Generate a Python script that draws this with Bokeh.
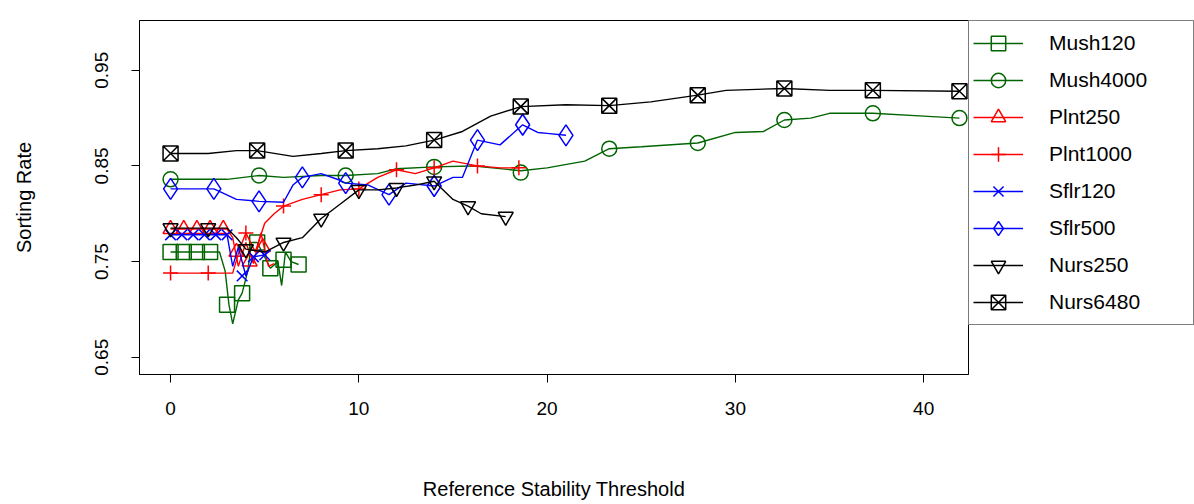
from bokeh.plotting import figure
from bokeh.models import Legend, LegendItem, Range1d, FixedTicker
from bokeh.embed import file_html
from bokeh.resources import INLINE

names = ["Mush120","Mush4000","Plnt250","Plnt1000","Sflr120","Sflr500","Nurs250","Nurs6480"]
colors = ["darkgreen","darkgreen","red","red","blue","blue","black","black"]
markers = ["square","circle","triangle","cross","x","diamond","inverted_triangle","square_x"]
msizes = [15, 15, 15, 15, 15, 21, 15, 15]

mush120_x = [0,2.6,2.9,3.1,3.3,3.6,3.8,4.1,4.3,4.6,5.0,5.3,5.7,5.9,6.1,6.4,6.8]
mush120_y = [.76,.76,.74,.705,.685,.71,.717,.74,.77,.77,.755,.743,.75,.725,.76,.75,.747]
mush120_mx = [0,.7,1.4,2.1,3.0,3.8,4.6,5.3,6.0,6.8]
mush120_my = [.76,.76,.76,.76,.705,.717,.77,.743,.752,.747]

mush4000_x = [0,3,4.7,6,8,9.3,11,12,14,16,18.6,20,22,23.3,25,28,30,31.5,32.6,34,35,37.3,40,41.9]
mush4000_y = [.836,.836,.840,.838,.840,.840,.842,.847,.849,.850,.845,.848,.855,.868,.870,.874,.885,.886,.898,.900,.905,.905,.902,.900]
mush4000_mx = [0,4.7,9.3,14,18.6,23.3,28,32.6,37.3,41.9]
mush4000_my = [.836,.840,.840,.849,.843,.868,.874,.898,.905,.900]

plnt250_x = [0,3,3.3,3.6,4,4.4,4.8,5.2,5.5]
plnt250_y = [.784,.784,.775,.745,.77,.748,.78,.745,.748]
plnt250_mx = [0,.7,1.4,2.1,2.8,3.5,4.2,4.9]
plnt250_my = [.784,.784,.784,.784,.784,.76,.75,.765]

plnt1000_x = [0,3.3,3.7,4,4.5,5,5.5,6,7,8,9,10,11,12,13,14,15,16.3,17.5,18.5]
plnt1000_y = [.738,.738,.765,.78,.76,.79,.80,.808,.815,.820,.825,.826,.838,.846,.842,.848,.855,.850,.848,.848]
plnt1000_mx = [0,2,4,6,8,10,12,14,16.3,18.5]
plnt1000_my = [.738,.738,.780,.808,.820,.826,.846,.848,.850,.848]

sflr120_x = [0,3,3.3,3.6,4,4.4,5,5.3]
sflr120_y = [.778,.778,.745,.765,.735,.755,.757,.762]
sflr120_mx = [0,.6,1.2,1.8,2.4,3.0,3.8,4.4,5.0]
sflr120_my = [.778,.778,.778,.778,.778,.778,.735,.755,.757]

sflr500_x = [0,2.3,3.5,4.7,6,6.5,7,8,9,9.3,10.5,11.6,12.5,14,15,15.5,16.3,17.5,18.7,19.5,20,21]
sflr500_y = [.826,.826,.815,.813,.812,.830,.838,.842,.835,.832,.830,.820,.832,.829,.838,.838,.877,.872,.893,.885,.884,.882]
sflr500_mx = [0,2.3,4.7,7,9.3,11.6,14,16.3,18.7,21]
sflr500_my = [.826,.826,.813,.838,.832,.820,.829,.877,.893,.882]

nurs250_x = [0,3,3.5,4,5,6,7,8,9,10,11,12,13,14,15,15.8,16.5,17.8]
nurs250_y = [.785,.785,.775,.763,.760,.770,.775,.795,.810,.825,.825,.827,.830,.834,.815,.808,.800,.797]
nurs250_mx = [0,2,4,6,8,10,12,14,15.8,17.8]
nurs250_my = [.785,.785,.763,.770,.795,.825,.827,.834,.808,.797]

nurs6480_x = [0,2,3.5,4.6,6.5,8,9.3,11,12.5,14,15.5,17,18.6,21,23.3,25.5,28,29.5,32.6,35,37.3,41.9]
nurs6480_y = [.863,.863,.866,.866,.860,.863,.866,.868,.871,.877,.886,.902,.912,.914,.913,.917,.924,.929,.931,.929,.929,.928]
nurs6480_mx = [0,4.6,9.3,14,18.6,23.3,28,32.6,37.3,41.9]
nurs6480_my = [.863,.866,.866,.877,.912,.913,.924,.931,.929,.928]

series = [
    (mush120_x, mush120_y, mush120_mx, mush120_my),
    (mush4000_x, mush4000_y, mush4000_mx, mush4000_my),
    (plnt250_x, plnt250_y, plnt250_mx, plnt250_my),
    (plnt1000_x, plnt1000_y, plnt1000_mx, plnt1000_my),
    (sflr120_x, sflr120_y, sflr120_mx, sflr120_my),
    (sflr500_x, sflr500_y, sflr500_mx, sflr500_my),
    (nurs250_x, nurs250_y, nurs250_mx, nurs250_my),
    (nurs6480_x, nurs6480_y, nurs6480_mx, nurs6480_my),
]

p = figure(frame_width=829, frame_height=354, output_backend="svg", toolbar_location=None,
           x_range=Range1d(-1.65, 42.38), y_range=Range1d(0.632, 1.002),
           min_border_left=139, min_border_top=20, min_border_bottom=130, min_border_right=0)
p.outline_line_color = "black"
p.outline_line_width = 1
p.grid.visible = False
p.background_fill_color = "white"

items = []
for (x, y, mx, my), n, c, m, ms in zip(series, names, colors, markers, msizes):
    l = p.line(x, y, line_color=c, line_width=1.4)
    s = p.scatter(mx, my, marker=m, size=ms, line_color=c, fill_color=None, line_width=1.5)
    items.append(LegendItem(label=n, renderers=[l, s]))

for ax in (p.xaxis[0], p.yaxis[0]):
    ax.axis_line_color = "black"
    ax.major_tick_out = 8
    ax.major_tick_in = 0
    ax.minor_tick_out = 0
    ax.minor_tick_in = 0
    ax.major_label_text_font = "Liberation Sans"
    ax.major_label_text_font_size = "19px"
    ax.major_label_text_color = "black"
    ax.axis_label_text_font = "Liberation Sans"
    ax.axis_label_text_font_size = "20px"
    ax.axis_label_text_font_style = "normal"
    ax.axis_label_text_color = "black"

p.xaxis.ticker = FixedTicker(ticks=[0, 10, 20, 30, 40])
p.yaxis.ticker = FixedTicker(ticks=[0.65, 0.75, 0.85, 0.95])
p.yaxis.major_label_orientation = "vertical"
p.xaxis.major_label_standoff = 19
p.yaxis.major_label_standoff = 23
p.xaxis.axis_label = "Reference Stability Threshold"
p.yaxis.axis_label = "Sorting Rate"
p.xaxis.axis_label_standoff = 60
p.yaxis.axis_label_standoff = 58

leg = Legend(items=items, location="top_left", border_line_color="black",
             label_text_font="Liberation Sans", label_text_font_size="21px",
             label_text_color="black",
             glyph_width=50, glyph_height=36, label_height=36, spacing=1,
             padding=4, margin=0, label_standoff=26, label_width=140,
             background_fill_color="white")
p.add_layout(leg, "right")

open("out.html", "w").write(file_html(p, INLINE))
